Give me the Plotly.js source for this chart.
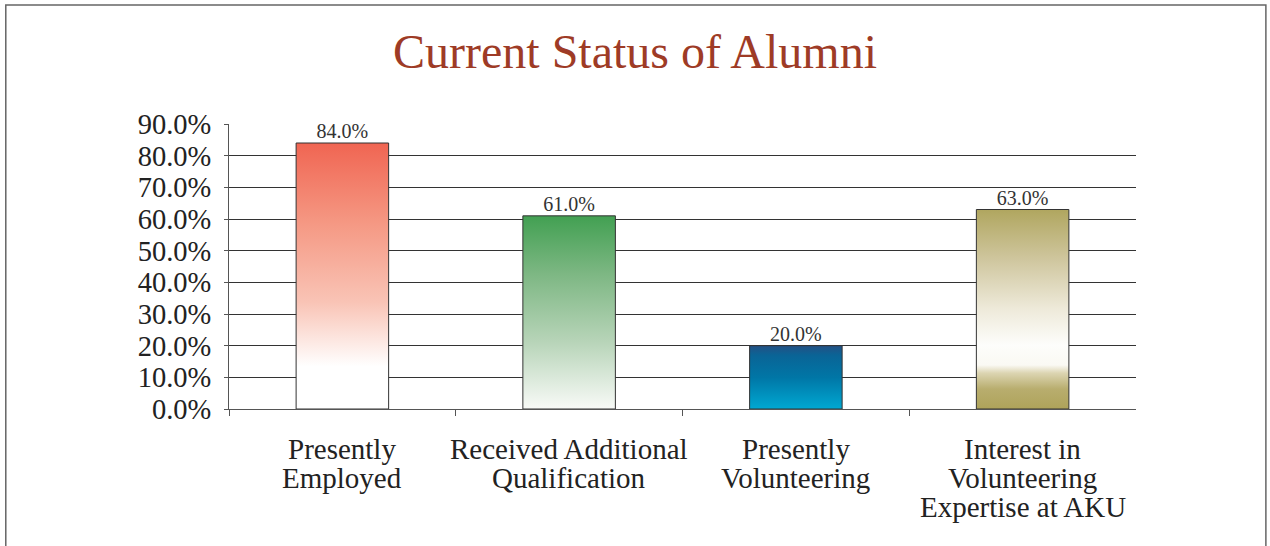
<!DOCTYPE html>
<html>
<head>
<meta charset="utf-8">
<script src="https://cdn.plot.ly/plotly-3.0.1.min.js"></script>
<style>
  body { margin: 0; background: #fff; }
  #plot { width: 1270px; height: 546px; }
</style>
</head>
<body>
<div id="plot"></div>
<script>
// values
var categories = [
  ['Presently', 'Employed'],
  ['Received Additional', 'Qualification'],
  ['Presently', 'Volunteering'],
  ['Interest in', 'Volunteering', 'Expertise at AKU']
];
var values = [84.0, 61.0, 20.0, 63.0];

// bottom-to-top colour stops for each bar
var gradients = [
  [[0, '#FFFFFF'], [0.16, '#FFFFFF'], [0.4, '#F9C4B6'], [0.7, '#F59883'], [1, '#F06552']],
  [[0, '#F8FAF7'], [0.35, '#B7D4B8'], [0.7, '#7DB783'], [1, '#42A052']],
  [[0, '#00A8D2'], [0.5, '#0076A6'], [0.85, '#0A6496'], [1, '#245084']],
  [[0, '#AEA35A'], [0.1, '#B8AD6E'], [0.18, '#DCD5B2'], [0.22, '#FAF9F3'], [0.32, '#FDFDFB'],
   [0.5, '#EEEADA'], [0.75, '#CFC69E'], [1, '#B0A65F']]
];

var halfWidth = 0.204;
var serif = 'Liberation Serif, Times New Roman, serif';

var data = [];
values.forEach(function (v, i) {
  data.push({
    x: [i - halfWidth, i + halfWidth, i + halfWidth, i - halfWidth, i - halfWidth],
    y: [0, 0, v, v, 0],
    type: 'scatter',
    mode: 'lines',
    fill: 'toself',
    fillgradient: { type: 'vertical', colorscale: gradients[i], start: 0, stop: v },
    line: { color: '#333', width: 1 },
    hoverinfo: 'skip',
    showlegend: false
  });
});

data.push({
  x: values.map(function (v, i) { return i; }),
  y: values,
  type: 'scatter',
  mode: 'text',
  text: values.map(function (v) { return v.toFixed(1) + '%'; }),
  textposition: 'top center',
  textfont: { family: serif, size: 20, color: '#333' },
  hoverinfo: 'skip',
  showlegend: false
});

// category labels, one annotation per line so the line spacing stays tight
var annotations = [];
categories.forEach(function (lines, i) {
  lines.forEach(function (line, j) {
    annotations.push({
      x: i, xref: 'x',
      y: 0, yref: 'paper',
      yanchor: 'top',
      yshift: -22 - j * 29,
      text: line,
      showarrow: false,
      font: { family: serif, size: 29, color: '#222' }
    });
  });
});

var layout = {
  width: 1270,
  height: 546,
  margin: { l: 229, r: 134, t: 124, b: 137 },
  paper_bgcolor: '#fff',
  plot_bgcolor: '#fff',
  title: {
    text: 'Current Status of Alumni',
    font: { family: serif, size: 48, color: '#9E3B26' },
    x: 0.5, xanchor: 'center',
    y: 0.875, yanchor: 'bottom'
  },
  xaxis: {
    range: [-0.5, 3.5],
    tickvals: [0, 1, 2, 3],
    showticklabels: false,
    ticks: '',
    showgrid: false,
    zeroline: false,
    showline: true,
    linecolor: '#555',
    linewidth: 1,
    minor: { tickmode: 'array', tickvals: [-0.5, 0.5, 1.5, 2.5], ticks: 'outside', ticklen: 6, tickcolor: '#555', showgrid: false },
    fixedrange: true
  },
  yaxis: {
    range: [0, 90],
    dtick: 10,
    tickformat: '.1f',
    ticksuffix: '%',
    ticks: 'outside',
    ticklen: 4,
    tickcolor: '#555',
    ticklabelstandoff: 7,
    tickfont: { family: serif, size: 28.5, color: '#222' },
    showgrid: true,
    gridcolor: '#333',
    gridwidth: 1,
    zeroline: false,
    showline: true,
    linecolor: '#555',
    linewidth: 1,
    fixedrange: true
  },
  annotations: annotations,
  shapes: [{
    type: 'rect', xref: 'paper', yref: 'paper',
    x0: -0.2461, x1: 1.1432, y0: -0.6, y1: 1.4175,
    line: { color: '#666', width: 1.5 },
    fillcolor: 'rgba(0,0,0,0)',
    layer: 'below'
  }]
};

Plotly.newPlot('plot', data, layout, { displayModeBar: false, staticPlot: true });
</script>
</body>
</html>
